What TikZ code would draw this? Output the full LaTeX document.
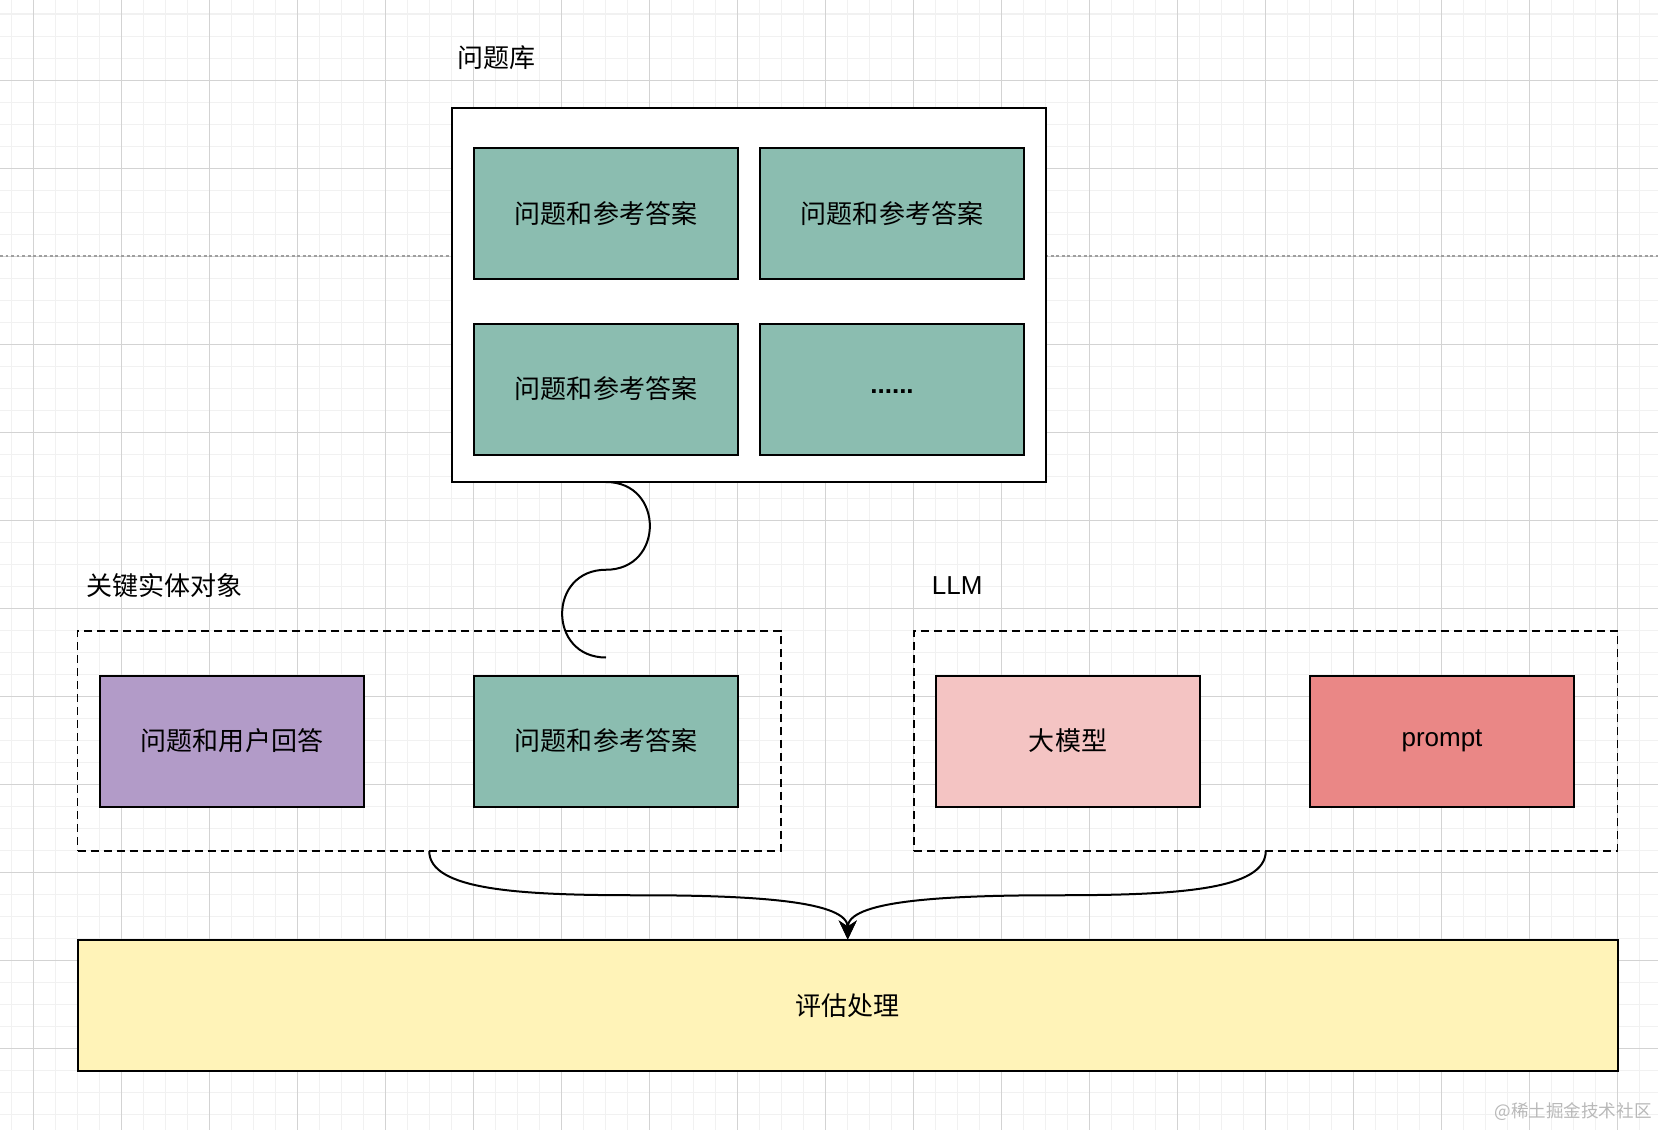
\documentclass[tikz,border=0pt]{standalone}
\usepackage{fontspec}
\setmainfont{Liberation Sans}
\newfontfamily\cjk{Noto Sans CJK SC}
\usetikzlibrary{arrows.meta,positioning,calc}

\definecolor{qagreen}{HTML}{8BBDB0}
\definecolor{userpurple}{HTML}{B29BC8}
\definecolor{modelpink}{HTML}{F4C4C3}
\definecolor{promptred}{HTML}{EA8786}
\definecolor{evalyellow}{HTML}{FFF3B8}
\definecolor{minorgrid}{HTML}{F1F1F1}
\definecolor{majorgrid}{HTML}{D3D3D3}

\begin{document}
\begin{tikzpicture}[
  box/.style={draw=black, line width=0.04cm, minimum width=5.28cm, minimum height=2.62cm, inner sep=0pt, outer sep=0pt, align=center, font=\cjk\fontsize{14.8pt}{18pt}\selectfont},
  qa/.style={box, fill=qagreen},
  user/.style={box, fill=userpurple},
  model/.style={box, fill=modelpink},
  promptbox/.style={box, fill=promptred, font=\fontsize{14.8pt}{18pt}\selectfont},
  bankbox/.style={draw=black, line width=0.04cm, fill=white, minimum width=11.88cm, minimum height=7.48cm, inner sep=0pt, outer sep=0pt},
  group/.style={draw=black, line width=0.035cm, dash pattern=on 0.16cm off 0.1cm, minimum width=14.07cm, minimum height=4.4cm, inner sep=0pt, outer sep=0pt},
  evalbox/.style={box, fill=evalyellow, minimum width=30.81cm, minimum height=2.63cm},
  lbl/.style={anchor=west, inner sep=0pt, font=\cjk\fontsize{14.8pt}{18pt}\selectfont},
  link/.style={line width=0.04cm},
  flow/.style={line width=0.04cm, -{Stealth[length=0.38cm, width=0.36cm, inset=0.12cm]}}
]
  \useasboundingbox (0,0) rectangle (33.16,-22.6);
  \fill[white] (0,0) rectangle (33.16,-22.6);

  % background grid
  \begin{scope}
    \clip (0,0) rectangle (33.16,-22.6);
    \begin{scope}[shift={(0.22,-0.28)}]
      \draw[minorgrid, line width=0.02cm, step=0.44] (-0.44,0.44) grid (33.44,-22.88);
    \end{scope}
    \begin{scope}[shift={(0.66,-1.6)}]
      \draw[majorgrid, line width=0.02cm, step=1.76] (-1.76,1.76) grid (33.44,-21.12);
    \end{scope}
    \draw[gray!75, line width=0.025cm, dash pattern=on 0.06cm off 0.05cm] (0,-5.12) -- (33.16,-5.12);
  \end{scope}

  % question bank
  \node[bankbox] (bank) at (14.98,-5.90) {};
  \node[lbl] (banklbl) at ($(bank.north west)+(0.1,1.0)$) {问题库};
  \node[qa, below right=0.8cm and 0.44cm of bank.north west] (qa1) {问题和参考答案};
  \node[qa, right=0.44cm of qa1] (qa2) {问题和参考答案};
  \node[qa, below=0.89cm of qa1] (qa3) {问题和参考答案};
  \node[qa, right=0.44cm of qa3, font=\bfseries\fontsize{14.8pt}{18pt}\selectfont] (qa4) {\raisebox{-0.16cm}{......}};

  % key entities
  \node[group] (grp1) at (8.585,-14.82) {};
  \node[lbl] (grp1lbl) at ($(grp1.north west)+(0.18,0.9)$) {关键实体对象};
  \node[user, right=0.45cm of grp1.west] (answer) {问题和用户回答};
  \node[qa] (qa5) at (qa3 |- grp1) {问题和参考答案};

  % LLM
  \node[group, right=2.66cm of grp1] (grp2) {};
  \node[lbl, font=\fontsize{14.8pt}{18pt}\selectfont] (grp2lbl) at ($(grp2.north west)+(0.35,0.9)$) {LLM};
  \node[model, right=0.44cm of grp2.west] (model) {大模型};
  \node[promptbox, right=2.2cm of model] (prompt) {prompt};

  % evaluation
  \node[evalbox, below right=1.77cm and 0cm of grp1.south west] (eval) {评估处理};

  \node[anchor=east, inner sep=0pt, text=gray!55, font=\cjk\fontsize{10pt}{12pt}\selectfont] (mark) at (33.04,-22.24) {@稀土掘金技术社区};

  % connectors
  \coordinate (qtop) at (qa3.south |- bank.south);
  \coordinate (qbot) at ($(qa5.north)+(0,0.36)$);
  \coordinate (qmid) at ($(qtop)!0.5!(qbot)$);
  \draw[link] (qtop) .. controls ($(qtop)+(1.17,0)$) and ($(qmid)+(1.17,0)$) .. (qmid)
    .. controls ($(qmid)+(-1.17,0)$) and ($(qbot)+(-1.17,0)$) .. (qbot);

  \coordinate (midL) at ($(grp1.south)!0.5!(eval.north)$);
  \coordinate (midR) at ($(grp2.south)!0.5!(eval.north)$);
  \draw[flow] (grp1.south) .. controls ($(grp1.south)+(0,-0.78)$) and ($(midL)+(-2.4,0)$) .. (midL)
    .. controls ($(midL)+(2.4,0)$) and ($(eval.north)+(0,0.76)$) .. (eval.north);
  \draw[flow] (grp2.south) .. controls ($(grp2.south)+(0,-0.78)$) and ($(midR)+(2.4,0)$) .. (midR)
    .. controls ($(midR)+(-2.4,0)$) and ($(eval.north)+(0,0.76)$) .. (eval.north);
\end{tikzpicture}
\end{document}
